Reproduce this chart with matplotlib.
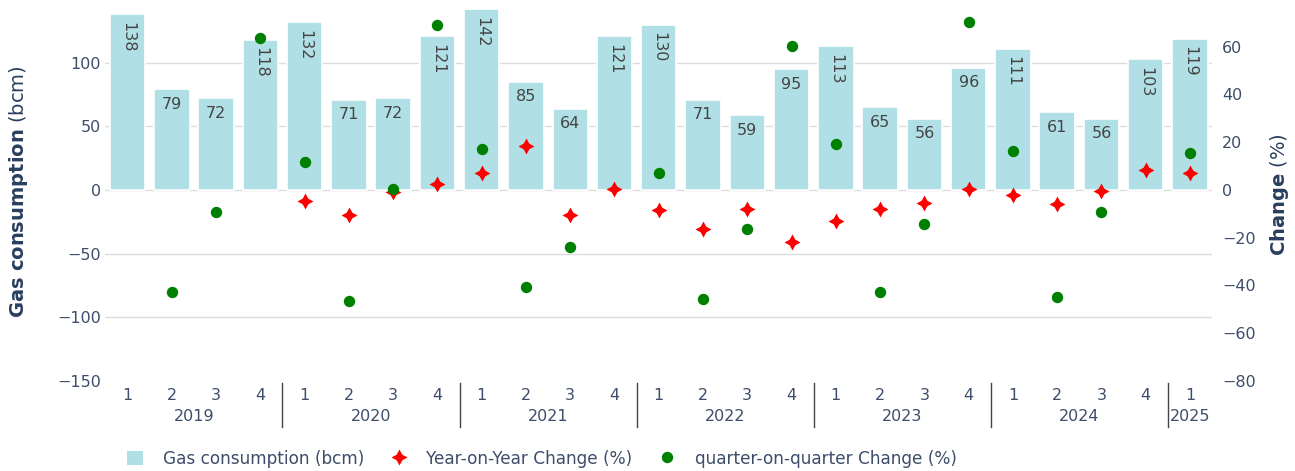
import numpy as np
import matplotlib.pyplot as plt
from matplotlib.lines import Line2D
from matplotlib.patches import Patch
import matplotlib.transforms as mtransforms

# quarterly gas consumption, 2019 Q1 .. 2025 Q1
years = ['2019', '2020', '2021', '2022', '2023', '2024', '2025']
quarters = [1, 2, 3, 4] * 6 + [1]
consumption = [138, 79, 72, 118, 132, 71, 72, 121, 142, 85, 64, 121,
               130, 71, 59, 95, 113, 65, 56, 96, 111, 61, 56, 103, 119]
yoy_change = [np.nan, np.nan, np.nan, np.nan,
              -4.5, -10.5, -1.0, 2.5, 7.3, 18.6, -10.4, 0.3,
              -8.3, -16.4, -8.0, -22.0, -13.2, -8.1, -5.5, 0.4,
              -2.2, -6.0, -0.3, 8.3, 7.3]
qoq_change = [np.nan, -42.6, -9.2, 63.6, 11.9, -46.4, 0.6, 69.1,
              17.2, -40.7, -24.0, 89.0, 7.3, -45.7, -16.5, 60.4,
              19.1, -42.6, -14.3, 70.5, 16.1, -44.7, -9.1, 84.0, 15.3]

BAR = '#b0e0e6'
TXT = '#3d4d6a'
NAVY = '#2a3f5f'

fig = plt.figure(figsize=(12.95, 4.71), dpi=100)
ax = fig.add_axes([0.0814, 0.1911, 0.8546, 0.792])
ax2 = ax.twinx()

x = np.arange(len(consumption))
ax.bar(x, consumption, width=0.8, color=BAR, edgecolor='white',
       linewidth=1.2, zorder=2)
for xi, v in zip(x, consumption):
    rot = -90 if v >= 100 else 0
    ax.annotate(str(v), (xi, v), xytext=(0, -5.5), textcoords='offset points',
                ha='center', va='top', rotation=rot, fontsize=11.5,
                color='#444444', zorder=3)

for g in [-100, -50, 0, 50, 100]:
    ax.axhline(g, color='#dddddd', lw=1, zorder=1)

ax.set_xlim(-0.5, len(consumption) - 0.5)
ax.set_ylim(-150, 143)
ax.set_yticks([-150, -100, -50, 0, 50, 100])
ax.set_yticklabels(['\u2212150', '\u2212100', '\u221250', '0', '50', '100'])
ax.set_xticks(x)
ax.set_xticklabels([str(q) for q in quarters])
ax.tick_params(axis='both', length=0, labelsize=11.5, labelcolor=TXT)
ax.tick_params(axis='x', pad=5)
ax.tick_params(axis='y', pad=3)

ax2.plot(x, yoy_change, linestyle='none', marker=(4, 1, 0), markersize=11.5,
         color='red', markeredgewidth=0, zorder=4)
ax2.plot(x, qoq_change, linestyle='none', marker='o', markersize=8.2,
         color='green', markeredgewidth=0, zorder=4)
ax2.set_ylim(-80, 76.2)
ax2.set_yticks([-80, -60, -40, -20, 0, 20, 40, 60])
ax2.set_yticklabels(['\u221280', '\u221260', '\u221240', '\u221220', '0', '20', '40', '60'])
ax2.tick_params(axis='y', length=0, labelsize=11.5, labelcolor=TXT, pad=7)

for a in (ax, ax2):
    for s in a.spines.values():
        s.set_visible(False)

# year labels and separators under the quarter ticks
trans = mtransforms.blended_transform_factory(ax.transData, ax.transAxes)
for i, yr in enumerate(years):
    start = i * 4
    end = min(start + 3, len(consumption) - 1)
    ax.text((start + end) / 2, -0.0965, yr, transform=trans, ha='center',
            va='center', fontsize=11.5, color=TXT)
    if i > 0:
        ax.plot([start - 0.5, start - 0.5], [-0.005, -0.123], transform=trans,
                color='#444444', lw=1, clip_on=False)

ax.set_ylabel(r'$\mathbf{Gas\ consumption}$ (bcm)', fontsize=14, color=NAVY)
ax.yaxis.set_label_coords(-0.068, 0.508)
ax2.set_ylabel(r'$\mathbf{Change}$ (%)', fontsize=14, color=NAVY)
ax2.yaxis.set_label_coords(1.0506, 0.5)

handles = [Patch(facecolor=BAR, edgecolor='none'),
           Line2D([], [], linestyle='none', marker=(4, 1, 0), markersize=11.5,
                  color='red', markeredgewidth=0),
           Line2D([], [], linestyle='none', marker='o', markersize=8.2,
                  color='green', markeredgewidth=0)]
labels = ['Gas consumption (bcm)', 'Year-on-Year Change (%)',
          'quarter-on-quarter Change (%)']
fig.legend(handles, labels, loc='center left', bbox_to_anchor=(0.098, 0.026),
           ncol=3, frameon=False, fontsize=12.2, labelcolor=TXT,
           handlelength=0.97, handleheight=0.97, handletextpad=1.15,
           columnspacing=1.55, borderpad=0, borderaxespad=0)

fig.savefig('out.png', dpi=100)
